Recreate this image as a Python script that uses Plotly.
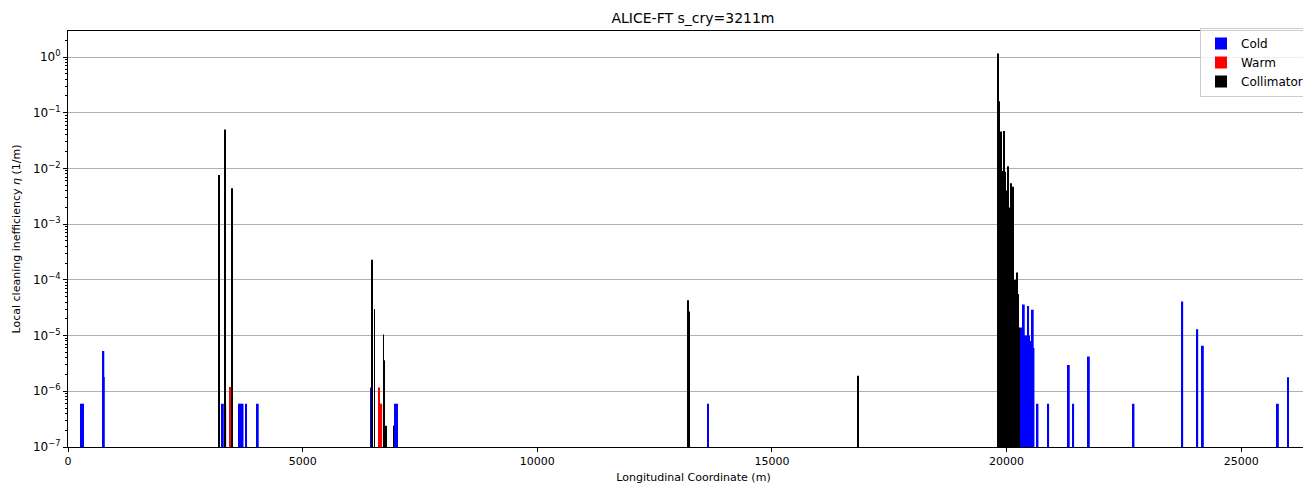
import plotly.graph_objects as go

# ---- data ----
cold_s = [290, 320, 753, 762, 3300, 3350, 3650, 3685, 3720, 3795, 4044, 6475,
          6985, 7010, 13638,
          20297, 20315, 20335, 20350, 20368, 20390, 20410, 20430, 20460, 20480,
          20500, 20530, 20559, 20575, 20660, 20887, 21327, 21420, 21754, 22706,
          23744, 24064, 24184, 25783, 26000]
cold_eta = [6e-7, 6e-7, 5.3e-6, 1.8e-6, 6e-7, 6e-7, 6e-7, 6e-7, 6e-7, 6e-7, 6e-7, 1.17e-6,
            6e-7, 6e-7, 6e-7,
            1.0e-5, 1.4e-5, 9.5e-6, 1.0e-5, 3.6e-5, 1.0e-5, 9.3e-6, 1.0e-5, 3.4e-5, 1.0e-5,
            8e-6, 5e-6, 2.9e-5, 6e-6, 6e-7, 6e-7, 2.95e-6, 6e-7, 4.2e-6, 6e-7,
            4.1e-5, 1.3e-5, 6.6e-6, 6e-7, 1.78e-6]

warm_s = [3455, 3470, 6631, 6660, 6680, 19903, 19977, 20083, 20105]
warm_eta = [1.2e-6, 6e-7, 1.17e-6, 6e-7, 6e-7, 7.7e-6, 3.6e-6, 1.2e-6, 7.7e-6]

coll_s = [3226, 3340, 3490, 3500, 6488, 6531, 6723, 6745, 6773, 6936,
          13211, 13225, 16829, 16840,
          19813, 19835, 19860, 19892, 19915, 19941, 19960, 19990, 20026, 20050,
          20075, 20105, 20133, 20147, 20175, 20204, 20218, 20240, 20261]
coll_eta = [7.6e-3, 5.0e-2, 4.4e-3, 5e-4, 2.3e-4, 3e-5, 1.05e-5, 3.6e-6, 2.4e-7, 2.4e-7,
            4.3e-5, 2.7e-5, 1.9e-6, 6e-7,
            1.16, 0.16, 0.01, 0.046, 0.009, 0.047, 8.7e-3, 4e-3, 0.011, 2e-3,
            1e-3, 5.4e-3, 4.7e-3, 2.4e-4, 1e-4, 2e-5, 1.36e-4, 5.6e-5, 1.4e-5]

x_ticks = [0, 5000, 10000, 15000, 20000, 25000]
y_exps = [-7, -6, -5, -4, -3, -2, -1, 0]
ring_length = 26659

# ---- figure ----
FONT = "DejaVu Sans"
W, H = 1311, 481  # page body has an 8px margin; right part runs off the window like the reference
L, T, B = 60, 23, 42
fig = go.Figure()
fig.add_trace(go.Bar(x=cold_s, y=cold_eta, name="Cold", marker=dict(color="#0000ff", line=dict(width=0)),
                     width=[40] * len(cold_s)))
fig.add_trace(go.Bar(x=warm_s, y=warm_eta, name="Warm", marker=dict(color="#ff0000", line=dict(width=0)),
                     width=[28] * len(warm_s)))
fig.add_trace(go.Bar(x=coll_s, y=coll_eta, name="Collimator", marker=dict(color="#000000", line=dict(width=0)),
                     width=[20] * len(coll_s)))

minor_vals = [m * 10 ** e for e in range(-7, 1) for m in range(2, 10)]
plot_w = W - L
plot_h = H - T - B

fig.update_layout(
    width=W, height=H,
    margin=dict(l=L, r=0, t=T, b=B, autoexpand=False),
    paper_bgcolor="white", plot_bgcolor="white",
    barmode="overlay",
    font=dict(family=FONT, size=11, color="black"),
    title=dict(text="ALICE-FT s_cry=3211m", x=685 / W, xanchor="center", y=1 - 10 / H, yanchor="middle",
               font=dict(size=14, family=FONT)),
    showlegend=True,
    legend=dict(x=(1192 - L) / plot_w, xanchor="left", y=1 + 3 / plot_h, yanchor="top",
                bgcolor="rgba(255,255,255,0.8)",
                bordercolor="#cccccc", borderwidth=1, font=dict(size=12, family=FONT),
                tracegroupgap=0),
    xaxis=dict(range=[0, ring_length], tickvals=x_ticks, ticktext=[str(v) for v in x_ticks],
               showgrid=False, zeroline=False, showline=True, linecolor="black", linewidth=1,
               mirror=True, ticks="outside", ticklen=4, tickcolor="black",
               title=dict(text="Longitudinal Coordinate (m)", standoff=6, font=dict(size=11))),
    yaxis=dict(type="log", range=[-7, 0.467],
               tickvals=[10 ** e for e in y_exps],
               ticktext=["10<sup>%s</sup>" % (str(e).replace("-", "\u2212")) for e in y_exps],
               showgrid=True, gridcolor="#b0b0b0", gridwidth=1,
               zeroline=False, showline=True, linecolor="black", linewidth=1, mirror=True,
               ticks="outside", ticklen=4, tickcolor="black", tickfont=dict(size=12),
               minor=dict(tickvals=minor_vals, ticks="outside", ticklen=2, tickcolor="black",
                          showgrid=False),
               title=dict(text="Local cleaning inefficiency <i>η</i> (1/m)", standoff=10,
                          font=dict(size=11))),
)

fig.write_html("out.html")
